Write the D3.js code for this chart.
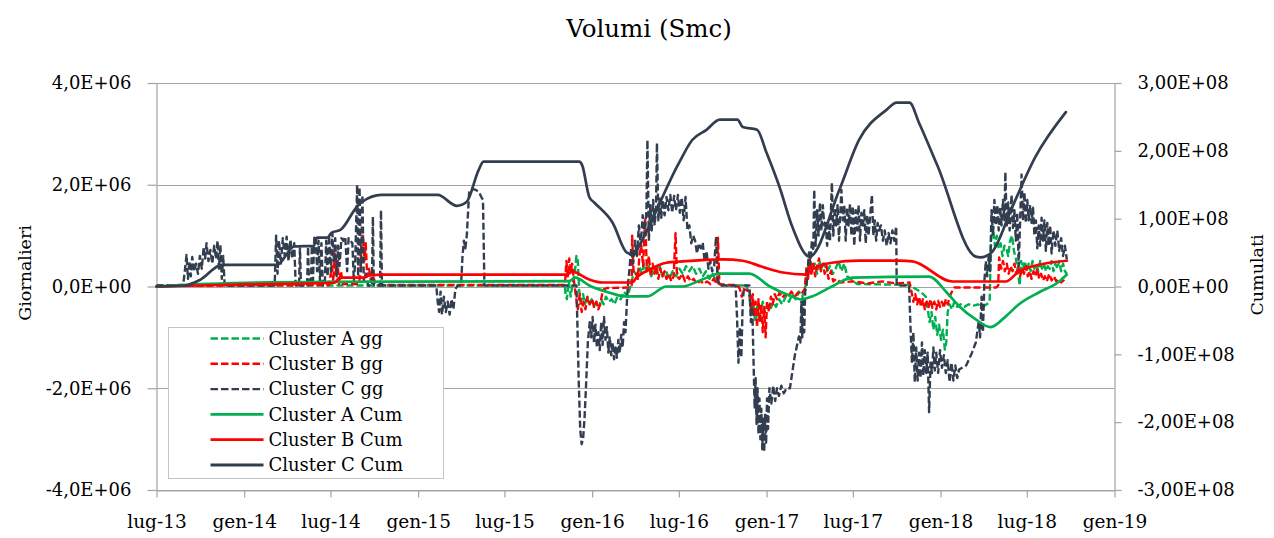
<!DOCTYPE html>
<html>
<head>
<meta charset="utf-8">
<script src="https://cdnjs.cloudflare.com/ajax/libs/d3/7.8.5/d3.min.js"></script>
<style>
  html, body { margin: 0; padding: 0; background: #ffffff; }
  svg { display: block; }
  text { font-family: "DejaVu Serif", "Liberation Serif", serif; fill: #000; }
</style>
</head>
<body>
<svg id="chart" width="1274" height="538"></svg>
<script>
// ---- data ---------------------------------------------------------------
const seriesNames = ["Cluster A gg", "Cluster B gg", "Cluster C gg",
                     "Cluster A Cum", "Cluster B Cum", "Cluster C Cum"];

const leftTicks  = [-4e6, -2e6, 0, 2e6, 4e6];
const leftTickLabels = ["-4,0E+06", "-2,0E+06", "0,0E+00", "2,0E+06", "4,0E+06"];
const rightTicks = [-3e8, -2e8, -1e8, 0, 1e8, 2e8, 3e8];
const rightTickLabels = ["-3,00E+08", "-2,00E+08", "-1,00E+08", "0,00E+00",
                         "1,00E+08", "2,00E+08", "3,00E+08"];
const xTickDates = ["2013-07-01", "2014-01-01", "2014-07-01", "2015-01-01",
                    "2015-07-01", "2016-01-01", "2016-07-01", "2017-01-01",
                    "2017-07-01", "2018-01-01", "2018-07-01", "2019-01-01"];
const xTickLabels = ["lug-13", "gen-14", "lug-14", "gen-15", "lug-15", "gen-16",
                     "lug-16", "gen-17", "lug-17", "gen-18", "lug-18", "gen-19"];

// daily volumes (Smc)
const clusterAgg = [
  ["2013-07-01", 0.02e6], ["2015-11-05", 0.02e6], ["2015-11-06", -0.15e6], ["2015-11-09", -0.25e6],
  ["2015-11-13", 0.1e6], ["2015-11-17", -0.2e6], ["2015-11-21", 0.05e6], ["2015-11-26", 0.3e6],
  ["2015-11-29", 0.6e6], ["2015-12-02", 0.5e6], ["2015-12-05", -0.1e6], ["2015-12-09", -0.3e6],
  ["2015-12-13", -0.15e6], ["2015-12-17", -0.35e6], ["2015-12-21", -0.2e6], ["2015-12-26", -0.35e6],
  ["2015-12-31", -0.25e6], ["2016-01-05", -0.4e6], ["2016-01-10", -0.3e6], ["2016-01-15", -0.4e6],
  ["2016-01-20", -0.25e6], ["2016-01-25", -0.35e6], ["2016-01-30", -0.2e6], ["2016-02-05", -0.3e6],
  ["2016-02-11", -0.25e6], ["2016-02-17", -0.35e6], ["2016-02-23", -0.2e6], ["2016-03-01", -0.25e6],
  ["2016-03-08", -0.1e6], ["2016-03-15", -0.2e6], ["2016-03-22", 0.02e6], ["2016-03-29", 0.3e6],
  ["2016-04-04", 0.2e6], ["2016-04-09", 0.4e6], ["2016-04-14", 0.25e6], ["2016-04-19", 0.45e6],
  ["2016-04-24", 0.3e6], ["2016-04-29", 0.4e6], ["2016-05-04", 0.2e6], ["2016-05-10", 0.35e6],
  ["2016-05-16", 0.25e6], ["2016-05-22", 0.4e6], ["2016-05-28", 0.2e6], ["2016-06-04", 0.3e6],
  ["2016-06-11", 0.15e6], ["2016-06-18", 0.3e6], ["2016-06-25", 0.2e6], ["2016-07-02", 0.35e6],
  ["2016-07-09", 0.25e6], ["2016-07-16", 0.4e6], ["2016-07-23", 0.3e6], ["2016-07-30", 0.4e6],
  ["2016-08-06", 0.25e6], ["2016-08-13", 0.35e6], ["2016-08-20", 0.2e6], ["2016-08-27", 0.3e6],
  ["2016-09-03", 0.15e6], ["2016-09-10", 0.25e6], ["2016-09-17", 0.1e6], ["2016-09-24", 0.05e6],
  ["2016-10-01", 0.02e6], ["2016-11-20", 0.02e6], ["2016-11-26", -0.2e6], ["2016-11-30", -0.5e6],
  ["2016-12-04", -0.3e6], ["2016-12-08", -0.7e6], ["2016-12-12", -0.4e6], ["2016-12-16", -0.65e6],
  ["2016-12-20", -0.5e6], ["2016-12-24", -0.3e6], ["2016-12-28", -0.5e6], ["2017-01-03", -0.35e6],
  ["2017-01-09", -0.45e6], ["2017-01-15", -0.3e6], ["2017-01-21", -0.4e6], ["2017-01-27", -0.25e6],
  ["2017-02-03", -0.35e6], ["2017-02-10", -0.2e6], ["2017-02-17", -0.3e6], ["2017-02-24", -0.15e6],
  ["2017-03-03", -0.25e6], ["2017-03-10", -0.1e6], ["2017-03-17", -0.2e6], ["2017-03-24", 0.02e6],
  ["2017-03-28", 0.35e6], ["2017-04-02", 0.5e6], ["2017-04-07", 0.3e6], ["2017-04-12", 0.45e6],
  ["2017-04-17", 0.25e6], ["2017-04-22", 0.5e6], ["2017-04-27", 0.35e6], ["2017-05-02", 0.45e6],
  ["2017-05-08", 0.3e6], ["2017-05-14", 0.4e6], ["2017-05-20", 0.25e6], ["2017-05-26", 0.35e6],
  ["2017-06-01", 0.5e6], ["2017-06-07", 0.3e6], ["2017-06-13", 0.45e6], ["2017-06-19", 0.2e6],
  ["2017-06-26", 0.15e6], ["2017-07-10", 0.05e6], ["2017-10-28", 0.03e6], ["2017-11-10", -0.05e6],
  ["2017-11-20", -0.1e6], ["2017-12-01", -0.2e6], ["2017-12-06", -0.5e6], ["2017-12-09", -0.7e6],
  ["2017-12-13", -0.5e6], ["2017-12-17", -0.85e6], ["2017-12-21", -0.6e6], ["2017-12-25", -0.95e6],
  ["2017-12-29", -0.75e6], ["2018-01-02", -1.05e6], ["2018-01-06", -0.85e6], ["2018-01-10", -1.24e6],
  ["2018-01-13", -1.1e6], ["2018-01-16", -0.5e6], ["2018-01-20", -0.35e6], ["2018-01-25", -0.45e6],
  ["2018-01-30", -0.3e6], ["2018-02-05", -0.4e6], ["2018-02-12", -0.35e6], ["2018-02-20", -0.4e6],
  ["2018-03-01", -0.35e6], ["2018-03-10", -0.38e6], ["2018-03-20", -0.35e6], ["2018-03-30", -0.4e6],
  ["2018-04-08", -0.35e6], ["2018-04-14", -0.3e6], ["2018-04-17", 0.9e6], ["2018-04-21", 1.18e6],
  ["2018-04-25", 0.8e6], ["2018-04-29", 1.0e6], ["2018-05-03", 0.75e6], ["2018-05-07", 0.85e6],
  ["2018-05-11", 0.6e6], ["2018-05-15", 0.8e6], ["2018-05-19", 0.75e6], ["2018-05-23", 0.6e6],
  ["2018-05-27", 0.9e6], ["2018-05-31", 1.0e6], ["2018-06-04", 0.7e6], ["2018-06-08", 0.55e6],
  ["2018-06-12", 0.3e6], ["2018-06-16", 0.02e6], ["2018-06-19", 0.5e6], ["2018-06-23", 0.35e6],
  ["2018-06-27", 0.5e6], ["2018-07-01", 0.3e6], ["2018-07-05", 0.45e6], ["2018-07-09", 0.3e6],
  ["2018-07-13", 0.5e6], ["2018-07-17", 0.35e6], ["2018-07-21", 0.45e6], ["2018-07-25", 0.3e6],
  ["2018-07-29", 0.5e6], ["2018-08-02", 0.35e6], ["2018-08-06", 0.45e6], ["2018-08-10", 0.3e6],
  ["2018-08-14", 0.4e6], ["2018-08-18", 0.35e6], ["2018-08-22", 0.5e6], ["2018-08-26", 0.3e6],
  ["2018-08-30", 0.45e6], ["2018-09-03", 0.35e6], ["2018-09-07", 0.5e6], ["2018-09-11", 0.3e6],
  ["2018-09-15", 0.45e6], ["2018-09-19", 0.3e6], ["2018-09-23", 0.25e6]
];

const clusterBgg = [
  ["2013-07-01", 0.01e6], ["2014-06-28", 0.03e6], ["2014-07-04", 0.4e6], ["2014-07-07", 0.1e6],
  ["2014-07-10", 0.65e6], ["2014-07-13", 0.2e6], ["2014-07-16", 0.5e6], ["2014-07-19", 0.05e6],
  ["2014-07-23", 0.3e6], ["2014-07-27", 0.05e6], ["2014-08-30", 0.05e6], ["2014-09-02", 0.3e6],
  ["2014-09-04", 0.9e6], ["2014-09-07", 1.0e6], ["2014-09-10", 0.5e6], ["2014-09-13", 0.85e6],
  ["2014-09-16", 0.2e6], ["2014-09-20", 0.35e6], ["2014-09-24", 0.1e6], ["2014-09-28", 0.2e6],
  ["2014-10-05", 0.03e6], ["2015-11-05", 0.03e6], ["2015-11-08", 0.5e6], ["2015-11-11", 0.2e6],
  ["2015-11-14", 0.55e6], ["2015-11-17", 0.3e6], ["2015-11-20", 0.45e6], ["2015-11-24", 0.1e6],
  ["2015-11-28", -0.2e6], ["2015-12-02", -0.45e6], ["2015-12-06", -0.15e6], ["2015-12-10", -0.5e6],
  ["2015-12-14", -0.3e6], ["2015-12-18", -0.45e6], ["2015-12-22", -0.2e6], ["2015-12-27", -0.35e6],
  ["2016-01-01", -0.25e6], ["2016-01-05", -0.4e6], ["2016-01-10", -0.3e6], ["2016-01-14", -0.45e6],
  ["2016-01-18", -0.35e6], ["2016-01-22", -0.15e6], ["2016-01-26", -0.05e6], ["2016-02-01", -0.03e6],
  ["2016-03-20", -0.02e6], ["2016-03-24", 0.02e6], ["2016-03-25", 1.0e6], ["2016-03-28", 0.25e6],
  ["2016-04-03", 0.25e6], ["2016-04-06", 0.15e6], ["2016-04-09", 0.6e6], ["2016-04-13", 0.8e6],
  ["2016-04-17", 0.4e6], ["2016-04-21", 1.35e6], ["2016-04-25", 0.3e6], ["2016-04-29", 0.6e6],
  ["2016-05-03", 0.2e6], ["2016-05-07", 0.45e6], ["2016-05-11", 0.25e6], ["2016-05-15", 0.4e6],
  ["2016-05-19", 0.15e6], ["2016-05-23", 0.35e6], ["2016-05-27", 0.2e6], ["2016-06-01", 0.3e6],
  ["2016-06-05", 0.15e6], ["2016-06-10", 0.25e6], ["2016-06-15", 0.1e6], ["2016-06-20", 0.2e6],
  ["2016-06-24", 1.05e6], ["2016-06-27", 0.2e6], ["2016-07-02", 0.15e6], ["2016-07-08", 0.25e6],
  ["2016-07-14", 0.1e6], ["2016-07-20", 0.2e6], ["2016-07-26", 0.1e6], ["2016-08-01", 0.15e6],
  ["2016-08-08", 0.05e6], ["2016-08-15", 0.12e6], ["2016-08-22", 0.05e6], ["2016-08-29", 0.1e6],
  ["2016-09-05", 0.05e6], ["2016-09-12", 0.15e6], ["2016-09-19", 0.05e6], ["2016-09-21", 0.96e6],
  ["2016-09-24", 0.05e6], ["2016-10-10", 0.03e6], ["2016-11-01", 0.03e6], ["2016-11-06", -0.05e6],
  ["2016-11-10", -0.2e6], ["2016-11-14", -0.05e6], ["2016-11-27", -0.1e6], ["2016-11-30", -0.5e6],
  ["2016-12-03", -0.15e6], ["2016-12-06", -0.6e6], ["2016-12-09", -0.3e6], ["2016-12-12", -0.8e6],
  ["2016-12-15", -0.25e6], ["2016-12-18", -0.7e6], ["2016-12-21", -0.35e6], ["2016-12-24", -0.9e6],
  ["2016-12-27", -0.4e6], ["2016-12-30", -1.0e6], ["2017-01-02", -0.3e6], ["2017-01-06", -0.5e6],
  ["2017-01-10", -0.2e6], ["2017-01-14", -0.35e6], ["2017-01-18", -0.15e6], ["2017-01-23", -0.25e6],
  ["2017-01-28", -0.12e6], ["2017-02-03", -0.22e6], ["2017-02-09", -0.15e6], ["2017-02-15", -0.2e6],
  ["2017-02-22", -0.1e6], ["2017-03-01", -0.2e6], ["2017-03-08", -0.12e6], ["2017-03-15", -0.15e6],
  ["2017-03-22", -0.05e6], ["2017-03-26", 0.4e6], ["2017-03-29", 0.15e6], ["2017-04-02", 0.6e6],
  ["2017-04-05", 0.25e6], ["2017-04-09", 0.45e6], ["2017-04-13", 0.2e6], ["2017-04-17", 0.4e6],
  ["2017-04-21", 0.55e6], ["2017-04-25", 0.3e6], ["2017-04-29", 0.45e6], ["2017-05-03", 0.25e6],
  ["2017-05-07", 0.4e6], ["2017-05-11", 0.15e6], ["2017-05-16", 0.3e6], ["2017-05-21", 0.1e6],
  ["2017-05-27", 0.15e6], ["2017-06-05", 0.08e6], ["2017-07-01", 0.1e6], ["2017-08-01", 0.06e6],
  ["2017-09-01", 0.1e6], ["2017-10-01", 0.06e6], ["2017-10-28", 0.08e6], ["2017-11-01", -0.1e6],
  ["2017-11-05", -0.3e6], ["2017-11-09", -0.15e6], ["2017-11-13", -0.35e6], ["2017-11-17", -0.2e6],
  ["2017-11-21", -0.4e6], ["2017-11-25", -0.25e6], ["2017-11-29", -0.45e6], ["2017-12-03", -0.3e6],
  ["2017-12-07", -0.4e6], ["2017-12-11", -0.25e6], ["2017-12-15", -0.42e6], ["2017-12-19", -0.3e6],
  ["2017-12-23", -0.45e6], ["2017-12-27", -0.28e6], ["2017-12-31", -0.4e6], ["2018-01-04", -0.3e6],
  ["2018-01-08", -0.42e6], ["2018-01-12", -0.25e6], ["2018-01-16", -0.35e6], ["2018-01-20", -0.2e6],
  ["2018-01-25", -0.1e6], ["2018-01-30", -0.02e6], ["2018-04-28", -0.02e6], ["2018-05-02", 0.02e6],
  ["2018-05-04", 0.57e6], ["2018-05-08", 0.35e6], ["2018-05-12", 0.5e6], ["2018-05-16", 0.3e6],
  ["2018-05-20", 0.45e6], ["2018-05-24", 0.25e6], ["2018-05-28", 0.4e6], ["2018-06-01", 0.3e6],
  ["2018-06-05", 0.45e6], ["2018-06-09", 0.25e6], ["2018-06-13", 0.4e6], ["2018-06-17", 0.2e6],
  ["2018-06-21", 0.35e6], ["2018-06-25", 0.25e6], ["2018-06-29", 0.4e6], ["2018-07-03", 0.2e6],
  ["2018-07-07", 0.3e6], ["2018-07-11", 0.15e6], ["2018-07-15", 0.3e6], ["2018-07-19", 0.2e6],
  ["2018-07-23", 0.35e6], ["2018-07-27", 0.15e6], ["2018-07-31", 0.25e6], ["2018-08-04", 0.12e6],
  ["2018-08-08", 0.2e6], ["2018-08-12", 0.1e6], ["2018-08-17", 0.25e6], ["2018-08-22", 0.12e6],
  ["2018-08-27", 0.2e6], ["2018-09-01", 0.1e6], ["2018-09-06", 0.15e6], ["2018-09-11", 0.08e6],
  ["2018-09-16", 0.12e6], ["2018-09-23", 0.07e6]
];

const clusterCgg = [
  ["2013-07-01", 0.02e6], ["2013-08-26", 0.03e6], ["2013-08-30", 0.35e6], ["2013-09-02", 0.62e6],
  ["2013-09-05", 0.15e6], ["2013-09-08", 0.5e6], ["2013-09-11", 0.2e6], ["2013-09-14", 0.58e6],
  ["2013-09-18", 0.3e6], ["2013-09-22", 0.45e6], ["2013-09-26", 0.25e6], ["2013-09-30", 0.6e6],
  ["2013-10-04", 0.35e6], ["2013-10-08", 0.78e6], ["2013-10-11", 0.55e6], ["2013-10-14", 0.85e6],
  ["2013-10-18", 0.5e6], ["2013-10-22", 0.72e6], ["2013-10-26", 0.45e6], ["2013-10-30", 0.8e6],
  ["2013-11-03", 0.55e6], ["2013-11-06", 0.9e6], ["2013-11-09", 0.35e6], ["2013-11-12", 0.82e6],
  ["2013-11-15", 0.15e6], ["2013-11-18", 0.6e6], ["2013-11-21", 0.02e6], ["2014-03-06", 0.02e6],
  ["2014-03-09", 1.0e6], ["2014-03-12", 0.25e6], ["2014-03-15", 0.9e6], ["2014-03-19", 0.45e6],
  ["2014-03-23", 0.95e6], ["2014-03-27", 0.6e6], ["2014-03-31", 0.98e6], ["2014-04-04", 0.5e6],
  ["2014-04-08", 0.92e6], ["2014-04-12", 0.55e6], ["2014-04-16", 0.85e6], ["2014-04-19", 0.02e6],
  ["2014-04-26", 0.02e6], ["2014-04-28", 0.75e6], ["2014-04-30", 0.02e6], ["2014-05-13", 0.02e6],
  ["2014-05-15", 0.78e6], ["2014-05-17", 0.02e6], ["2014-05-21", 0.02e6], ["2014-05-23", 0.8e6],
  ["2014-05-25", 0.02e6], ["2014-05-28", 0.95e6], ["2014-05-31", 1.0e6], ["2014-06-03", 0.3e6],
  ["2014-06-06", 0.9e6], ["2014-06-09", 0.1e6], ["2014-06-12", 0.85e6], ["2014-06-15", 0.02e6],
  ["2014-06-19", 0.02e6], ["2014-06-22", 0.9e6], ["2014-06-25", 0.2e6], ["2014-06-28", 1.0e6],
  ["2014-07-02", 0.3e6], ["2014-07-05", 1.05e6], ["2014-07-08", 0.5e6], ["2014-07-11", 0.95e6],
  ["2014-07-14", 0.2e6], ["2014-07-17", 0.8e6], ["2014-07-20", 0.4e6], ["2014-07-24", 0.95e6],
  ["2014-07-28", 0.9e6], ["2014-08-01", 0.98e6], ["2014-08-05", 0.3e6], ["2014-08-08", 0.95e6],
  ["2014-08-12", 0.9e6], ["2014-08-16", 0.85e6], ["2014-08-19", 0.1e6], ["2014-08-22", 0.5e6],
  ["2014-08-26", 2.0e6], ["2014-08-28", 0.2e6], ["2014-08-31", 1.95e6], ["2014-09-03", 0.3e6],
  ["2014-09-06", 1.8e6], ["2014-09-09", 0.1e6], ["2014-09-13", 0.25e6], ["2014-09-18", 0.02e6],
  ["2014-09-26", 0.02e6], ["2014-09-28", 1.37e6], ["2014-09-30", 0.02e6], ["2014-10-13", 0.02e6],
  ["2014-10-15", 1.5e6], ["2014-10-17", 0.02e6], ["2015-02-08", 0.02e6], ["2015-02-11", -0.3e6],
  ["2015-02-14", -0.5e6], ["2015-02-17", -0.1e6], ["2015-02-20", -0.55e6], ["2015-02-24", -0.2e6],
  ["2015-02-28", -0.5e6], ["2015-03-04", -0.3e6], ["2015-03-08", -0.55e6], ["2015-03-12", -0.25e6],
  ["2015-03-16", -0.45e6], ["2015-03-20", -0.05e6], ["2015-03-25", 0.02e6], ["2015-04-01", 0.02e6],
  ["2015-04-04", 0.6e6], ["2015-04-07", 0.9e6], ["2015-04-10", 0.75e6], ["2015-04-13", 1.0e6],
  ["2015-04-18", 1.85e6], ["2015-04-24", 1.92e6], ["2015-05-02", 1.9e6], ["2015-05-09", 1.85e6],
  ["2015-05-14", 1.75e6], ["2015-05-17", 1.7e6], ["2015-05-20", 0.02e6], ["2015-11-29", 0.02e6],
  ["2015-12-01", -0.7e6], ["2015-12-04", -1.9e6], ["2015-12-07", -2.8e6], ["2015-12-10", -3.1e6],
  ["2015-12-13", -3.0e6], ["2015-12-16", -2.6e6], ["2015-12-19", -2.0e6], ["2015-12-23", -1.1e6],
  ["2015-12-27", -0.7e6], ["2015-12-30", -1.0e6], ["2016-01-02", -0.6e6], ["2016-01-05", -1.1e6],
  ["2016-01-08", -0.75e6], ["2016-01-11", -1.2e6], ["2016-01-14", -0.9e6], ["2016-01-17", -1.25e6],
  ["2016-01-20", -0.7e6], ["2016-01-23", -1.15e6], ["2016-01-26", -0.6e6], ["2016-01-29", -1.05e6],
  ["2016-02-01", -0.8e6], ["2016-02-04", -1.3e6], ["2016-02-07", -1.0e6], ["2016-02-10", -1.35e6],
  ["2016-02-13", -1.1e6], ["2016-02-16", -1.43e6], ["2016-02-19", -1.2e6], ["2016-02-22", -1.4e6],
  ["2016-02-25", -1.05e6], ["2016-02-28", -1.3e6], ["2016-03-02", -0.95e6], ["2016-03-05", -1.2e6],
  ["2016-03-08", -0.7e6], ["2016-03-11", -0.9e6], ["2016-03-14", -0.3e6], ["2016-03-16", 0.02e6],
  ["2016-03-19", 0.3e6], ["2016-03-23", 0.75e6], ["2016-03-27", 0.45e6], ["2016-03-31", 0.9e6],
  ["2016-04-04", 0.6e6], ["2016-04-08", 1.2e6], ["2016-04-12", 0.8e6], ["2016-04-16", 1.4e6],
  ["2016-04-20", 1.0e6], ["2016-04-24", 1.5e6], ["2016-04-26", 2.88e6], ["2016-04-29", 0.9e6],
  ["2016-05-02", 1.6e6], ["2016-05-05", 1.1e6], ["2016-05-08", 1.7e6], ["2016-05-11", 1.2e6],
  ["2016-05-14", 1.5e6], ["2016-05-16", 2.82e6], ["2016-05-19", 1.3e6], ["2016-05-22", 1.75e6],
  ["2016-05-25", 1.35e6], ["2016-05-28", 1.7e6], ["2016-06-01", 1.4e6], ["2016-06-05", 1.76e6],
  ["2016-06-09", 1.5e6], ["2016-06-13", 1.8e6], ["2016-06-17", 1.45e6], ["2016-06-21", 1.78e6],
  ["2016-06-25", 1.5e6], ["2016-06-29", 1.8e6], ["2016-07-03", 1.45e6], ["2016-07-07", 1.75e6],
  ["2016-07-11", 1.3e6], ["2016-07-15", 1.76e6], ["2016-07-19", 1.1e6], ["2016-07-23", 1.2e6],
  ["2016-07-27", 0.85e6], ["2016-07-31", 1.0e6], ["2016-08-04", 0.9e6], ["2016-08-08", 0.65e6],
  ["2016-08-12", 0.85e6], ["2016-08-16", 0.75e6], ["2016-08-20", 0.86e6], ["2016-08-24", 0.5e6],
  ["2016-08-28", 0.7e6], ["2016-09-01", 0.35e6], ["2016-09-05", 0.5e6], ["2016-09-09", 0.3e6],
  ["2016-09-13", 0.4e6], ["2016-09-17", 0.98e6], ["2016-09-20", 0.2e6], ["2016-09-24", 0.02e6],
  ["2016-10-28", 0.02e6], ["2016-10-31", -0.6e6], ["2016-11-03", -1.5e6], ["2016-11-06", -0.8e6],
  ["2016-11-09", -1.4e6], ["2016-11-12", -0.3e6], ["2016-11-15", 0.02e6], ["2016-11-26", 0.02e6],
  ["2016-11-29", -0.7e6], ["2016-12-02", -0.4e6], ["2016-12-05", -1.6e6], ["2016-12-07", -2.4e6],
  ["2016-12-09", -1.8e6], ["2016-12-11", -2.7e6], ["2016-12-13", -2.0e6], ["2016-12-15", -2.9e6],
  ["2016-12-17", -2.2e6], ["2016-12-19", -3.0e6], ["2016-12-21", -2.4e6], ["2016-12-23", -3.2e6],
  ["2016-12-25", -2.6e6], ["2016-12-27", -3.25e6], ["2016-12-29", -2.5e6], ["2016-12-31", -3.1e6],
  ["2017-01-02", -2.2e6], ["2017-01-04", -2.8e6], ["2017-01-07", -2.0e6], ["2017-01-11", -2.3e6],
  ["2017-01-15", -1.95e6], ["2017-01-19", -2.25e6], ["2017-01-23", -2.0e6], ["2017-01-27", -2.15e6],
  ["2017-02-01", -1.95e6], ["2017-02-06", -2.1e6], ["2017-02-12", -2.0e6], ["2017-02-19", -2.0e6],
  ["2017-03-01", -1.37e6], ["2017-03-10", -0.98e6], ["2017-03-13", -1.1e6], ["2017-03-15", -0.3e6],
  ["2017-03-17", -1.0e6], ["2017-03-19", -0.2e6], ["2017-03-21", -0.9e6], ["2017-03-23", -0.1e6],
  ["2017-03-26", 0.02e6], ["2017-03-28", 0.3e6], ["2017-03-31", 0.67e6], ["2017-04-03", 0.45e6],
  ["2017-04-06", 0.9e6], ["2017-04-09", 0.7e6], ["2017-04-11", 1.9e6], ["2017-04-14", 0.8e6],
  ["2017-04-17", 1.5e6], ["2017-04-20", 1.0e6], ["2017-04-23", 1.65e6], ["2017-04-26", 1.1e6],
  ["2017-04-29", 1.6e6], ["2017-05-02", 1.2e6], ["2017-05-05", 1.3e6], ["2017-05-08", 0.8e6],
  ["2017-05-11", 1.2e6], ["2017-05-14", 0.9e6], ["2017-05-18", 2.04e6], ["2017-05-21", 1.0e6],
  ["2017-05-24", 1.55e6], ["2017-05-27", 1.2e6], ["2017-05-30", 1.6e6], ["2017-06-02", 0.9e6],
  ["2017-06-05", 1.5e6], ["2017-06-07", 1.9e6], ["2017-06-10", 1.3e6], ["2017-06-13", 1.6e6],
  ["2017-06-16", 0.9e6], ["2017-06-19", 1.55e6], ["2017-06-22", 1.2e6], ["2017-06-25", 1.62e6],
  ["2017-06-28", 1.0e6], ["2017-07-01", 1.58e6], ["2017-07-04", 0.8e6], ["2017-07-07", 1.5e6],
  ["2017-07-10", 1.1e6], ["2017-07-13", 1.6e6], ["2017-07-16", 0.9e6], ["2017-07-19", 1.45e6],
  ["2017-07-22", 1.15e6], ["2017-07-25", 1.5e6], ["2017-07-28", 0.85e6], ["2017-07-31", 1.4e6],
  ["2017-08-03", 1.0e6], ["2017-08-06", 1.35e6], ["2017-08-10", 1.8e6], ["2017-08-13", 1.0e6],
  ["2017-08-16", 1.3e6], ["2017-08-19", 0.9e6], ["2017-08-22", 1.25e6], ["2017-08-25", 1.1e6],
  ["2017-08-29", 1.2e6], ["2017-09-02", 0.9e6], ["2017-09-06", 1.1e6], ["2017-09-10", 0.8e6],
  ["2017-09-14", 1.05e6], ["2017-09-18", 0.85e6], ["2017-09-22", 1.1e6], ["2017-09-26", 0.9e6],
  ["2017-09-30", 1.18e6], ["2017-10-01", 0.02e6], ["2017-10-27", 0.02e6], ["2017-10-30", -0.8e6],
  ["2017-11-02", -1.5e6], ["2017-11-05", -0.9e6], ["2017-11-08", -1.88e6], ["2017-11-11", -1.2e6],
  ["2017-11-14", -1.85e6], ["2017-11-17", -1.3e6], ["2017-11-20", -1.8e6], ["2017-11-23", -1.1e6],
  ["2017-11-26", -1.75e6], ["2017-11-29", -1.25e6], ["2017-12-02", -1.7e6], ["2017-12-05", -1.3e6],
  ["2017-12-08", -2.47e6], ["2017-12-11", -1.5e6], ["2017-12-14", -1.7e6], ["2017-12-17", -1.2e6],
  ["2017-12-20", -1.65e6], ["2017-12-23", -1.3e6], ["2017-12-27", -1.7e6], ["2017-12-31", -1.25e6],
  ["2018-01-04", -1.6e6], ["2018-01-08", -1.35e6], ["2018-01-12", -1.7e6], ["2018-01-16", -1.45e6],
  ["2018-01-20", -1.88e6], ["2018-01-24", -1.5e6], ["2018-01-28", -1.85e6], ["2018-02-01", -1.55e6],
  ["2018-02-05", -1.8e6], ["2018-02-09", -1.63e6], ["2018-02-24", -1.55e6], ["2018-03-08", -1.3e6],
  ["2018-03-16", -1.1e6], ["2018-03-22", -0.7e6], ["2018-03-25", -1.0e6], ["2018-03-28", -0.2e6],
  ["2018-03-31", -0.9e6], ["2018-04-03", 0.1e6], ["2018-04-06", 0.5e6], ["2018-04-09", 0.2e6],
  ["2018-04-12", 0.6e6], ["2018-04-15", 0.3e6], ["2018-04-18", 1.5e6], ["2018-04-21", 1.0e6],
  ["2018-04-24", 1.7e6], ["2018-04-27", 1.2e6], ["2018-04-30", 1.6e6], ["2018-05-03", 1.1e6],
  ["2018-05-06", 1.55e6], ["2018-05-09", 1.2e6], ["2018-05-12", 1.7e6], ["2018-05-15", 1.3e6],
  ["2018-05-17", 2.25e6], ["2018-05-20", 1.2e6], ["2018-05-23", 1.65e6], ["2018-05-26", 1.1e6],
  ["2018-05-30", 1.8e6], ["2018-06-02", 1.15e6], ["2018-06-05", 1.5e6], ["2018-06-08", 0.9e6],
  ["2018-06-11", 1.45e6], ["2018-06-14", 0.4e6], ["2018-06-17", 1.3e6], ["2018-06-20", 2.2e6],
  ["2018-06-23", 1.3e6], ["2018-06-26", 1.85e6], ["2018-06-29", 1.25e6], ["2018-07-02", 1.7e6],
  ["2018-07-05", 1.3e6], ["2018-07-08", 1.6e6], ["2018-07-11", 1.25e6], ["2018-07-14", 1.55e6],
  ["2018-07-17", 1.0e6], ["2018-07-20", 1.3e6], ["2018-07-23", 0.75e6], ["2018-07-26", 1.2e6],
  ["2018-07-29", 0.8e6], ["2018-08-01", 1.35e6], ["2018-08-04", 0.9e6], ["2018-08-07", 1.3e6],
  ["2018-08-10", 0.7e6], ["2018-08-13", 1.25e6], ["2018-08-16", 0.8e6], ["2018-08-19", 1.2e6],
  ["2018-08-22", 0.65e6], ["2018-08-26", 1.1e6], ["2018-08-30", 0.8e6], ["2018-09-03", 1.1e6],
  ["2018-09-07", 0.7e6], ["2018-09-11", 0.95e6], ["2018-09-15", 0.6e6], ["2018-09-19", 0.8e6],
  ["2018-09-23", 0.53e6]
];

// cumulative volumes (Smc)
const clusterAcum = [
  ["2013-07-01", 0], ["2013-10-01", 3.5e6], ["2014-01-01", 5.5e6], ["2014-07-01", 7e6],
  ["2015-11-13", 7.8e6], ["2015-11-27", 1.3e7], ["2015-12-26", 1.5e6], ["2016-02-05", -8.8e6],
  ["2016-03-12", -1.47e7], ["2016-04-25", -1.47e7], ["2016-06-05", 0], ["2016-07-08", 0],
  ["2016-08-19", 1.03e7], ["2016-09-24", 1.9e7], ["2016-11-26", 1.9e7], ["2017-01-08", 0],
  ["2017-02-13", -1.18e7], ["2017-03-16", -1.9e7], ["2017-04-06", -1.47e7], ["2017-05-18", 0],
  ["2017-06-30", 1.32e7], ["2017-12-08", 1.47e7], ["2018-01-14", -8.8e6], ["2018-02-09", -2.9e7],
  ["2018-03-16", -4.85e7], ["2018-04-16", -6.0e7], ["2018-05-18", -4.4e7], ["2018-06-14", -2.65e7],
  ["2018-07-26", -8.8e6], ["2018-09-07", 7.4e6], ["2018-09-23", 1.76e7]
];

const clusterBcum = [
  ["2013-07-01", 0], ["2013-10-01", 1.5e6], ["2014-01-01", 3e6], ["2014-04-01", 4e6],
  ["2014-07-10", 5.5e6], ["2014-07-20", 1.3e7], ["2014-09-10", 1.3e7], ["2014-09-18", 1.6e7],
  ["2014-10-22", 1.76e7], ["2015-11-10", 1.76e7], ["2015-11-20", 2.2e7], ["2015-12-26", 1.03e7],
  ["2016-01-23", 5.9e6], ["2016-03-25", 5.9e6], ["2016-04-03", 1.32e7], ["2016-04-30", 2.5e7],
  ["2016-06-05", 3.5e7], ["2016-07-08", 3.7e7], ["2016-10-01", 4.0e7], ["2016-11-12", 3.8e7],
  ["2016-12-23", 2.9e7], ["2017-02-04", 2.06e7], ["2017-03-25", 1.76e7], ["2017-04-01", 2.2e7],
  ["2017-05-18", 3.5e7], ["2017-07-14", 3.8e7], ["2017-10-06", 3.8e7], ["2017-11-03", 3.7e7],
  ["2018-01-26", 7.4e6], ["2018-05-18", 7.4e6], ["2018-06-14", 2.2e7], ["2018-07-26", 3.2e7],
  ["2018-09-23", 3.8e7]
];

const clusterCcum = [
  ["2013-07-01", 0], ["2013-08-29", 1.5e6], ["2013-10-01", 1.0e7], ["2013-11-15", 3.2e7],
  ["2014-03-11", 3.2e7], ["2014-04-16", 5.9e7], ["2014-05-27", 6.0e7], ["2014-06-03", 7.2e7],
  ["2014-06-24", 7.2e7], ["2014-07-03", 7.9e7], ["2014-07-23", 8.4e7], ["2014-08-26", 1.18e8],
  ["2014-09-06", 1.25e8], ["2014-10-16", 1.35e8], ["2015-02-11", 1.35e8], ["2015-03-23", 1.19e8],
  ["2015-04-13", 1.25e8], ["2015-05-08", 1.72e8], ["2015-05-18", 1.84e8], ["2015-12-05", 1.84e8],
  ["2015-12-11", 1.79e8], ["2015-12-26", 1.32e8], ["2016-01-06", 1.235e8], ["2016-02-13", 0.94e8],
  ["2016-03-14", 0.5e8], ["2016-03-29", 0.47e8], ["2016-04-08", 0.59e8], ["2016-07-01", 1.82e8],
  ["2016-07-29", 2.16e8], ["2016-08-28", 2.31e8], ["2016-09-25", 2.46e8], ["2016-11-01", 2.46e8],
  ["2016-11-12", 2.35e8], ["2016-12-12", 2.31e8], ["2017-01-01", 1.97e8], ["2017-01-28", 1.47e8],
  ["2017-02-24", 0.88e8], ["2017-04-01", 0.44e8], ["2017-06-03", 1.43e8], ["2017-07-14", 2.16e8],
  ["2017-09-09", 2.6e8], ["2017-10-01", 2.71e8], ["2017-10-28", 2.71e8], ["2017-11-17", 2.41e8],
  ["2017-12-25", 1.79e8], ["2018-03-16", 0.44e8], ["2018-03-26", 0.43e8], ["2018-04-18", 0.5e8],
  ["2018-06-01", 1.18e8], ["2018-07-19", 1.91e8], ["2018-09-21", 2.57e8]
];

const seriesColors = ["#00b050", "#ff0000", "#323e4f", "#00b050", "#ff0000", "#323e4f"];

// ---- layout -------------------------------------------------------------
const svg = d3.select("#chart");
const plot = { left: 156.5, right: 1114.5, top: 83, bottom: 490 };
const parse = d3.utcParse("%Y-%m-%d");

const x = d3.scaleUtc()
  .domain([parse("2013-07-01"), parse("2019-01-01")])
  .range([plot.left, plot.right]);
const yL = d3.scaleLinear().domain([-4e6, 4e6]).range([plot.bottom, plot.top]);
const yR = d3.scaleLinear().domain([-3e8, 3e8]).range([plot.bottom, plot.top]);

const gridColor = "#a3a3a3";

// horizontal gridlines on the primary axis ticks
svg.append("g").selectAll("line").data(leftTicks).join("line")
  .attr("x1", plot.left).attr("x2", plot.right)
  .attr("y1", d => Math.round(yL(d)) + 0.5).attr("y2", d => Math.round(yL(d)) + 0.5)
  .attr("stroke", gridColor).attr("stroke-width", 1.2);

// axes
function styleAxis(g) {
  g.selectAll("path.domain").attr("stroke", gridColor).attr("stroke-width", 1.2);
  g.selectAll(".tick line").attr("stroke", gridColor).attr("stroke-width", 1.2);
  g.selectAll(".tick text").attr("font-family", "DejaVu Serif").attr("font-size", 18).attr("fill", "#000");
}

svg.append("g")
  .attr("transform", `translate(${plot.left},0)`)
  .call(d3.axisLeft(yL).tickValues(leftTicks).tickSize(9).tickSizeOuter(0).tickPadding(16)
    .tickFormat((d, i) => leftTickLabels[i]))
  .call(styleAxis);

svg.append("g")
  .attr("transform", `translate(${plot.right},0)`)
  .call(d3.axisRight(yR).tickValues(rightTicks).tickSize(7).tickSizeOuter(0).tickPadding(16)
    .tickFormat((d, i) => rightTickLabels[i]))
  .call(styleAxis);

svg.append("g")
  .attr("transform", `translate(0,${plot.bottom + 0.5})`)
  .call(d3.axisBottom(x).tickValues(xTickDates.map(parse)).tickSize(7).tickSizeOuter(0).tickPadding(17)
    .tickFormat((d, i) => xTickLabels[i]))
  .call(styleAxis)
  .call(g => g.selectAll(".tick text").attr("font-size", 18.5));

// ---- series -------------------------------------------------------------
const lineL = d3.line().x(d => x(parse(d[0]))).y(d => yL(d[1]));
const lineR = d3.line().x(d => x(parse(d[0]))).y(d => yR(d[1])).curve(d3.curveMonotoneX);

const daily = [clusterAgg, clusterBgg, clusterCgg];
const cumul = [clusterAcum, clusterBcum, clusterCcum];

const series = svg.append("g").attr("fill", "none")
  .attr("stroke-linejoin", "round");

daily.forEach((data, i) => {
  series.append("path")
    .attr("d", lineL(data))
    .attr("stroke", seriesColors[i])
    .attr("stroke-width", 2.4)
    .attr("stroke-dasharray", "7,3");
});
cumul.forEach((data, i) => {
  series.append("path")
    .attr("d", lineR(data))
    .attr("stroke", seriesColors[i + 3])
    .attr("stroke-width", 2.7)
    .attr("stroke-linecap", "round");
});

// ---- legend -------------------------------------------------------------
const legend = svg.append("g").attr("transform", "translate(168.5,327.5)");
legend.append("rect")
  .attr("width", 275).attr("height", 151)
  .attr("fill", "#fff").attr("stroke", "#c4c4c4").attr("stroke-width", 1);

seriesNames.forEach((name, i) => {
  const cy = 11 + i * 25.3;
  legend.append("line")
    .attr("x1", 42).attr("x2", 95).attr("y1", cy).attr("y2", cy)
    .attr("stroke", seriesColors[i]).attr("stroke-width", i < 3 ? 2.4 : 2.8)
    .attr("stroke-dasharray", i < 3 ? "7.5,3" : null);
  legend.append("text")
    .attr("x", 100).attr("y", cy).attr("dy", "0.35em")
    .attr("font-size", 18).text(name);
});

// ---- titles -------------------------------------------------------------
svg.append("text")
  .attr("x", 649).attr("y", 37).attr("text-anchor", "middle")
  .attr("font-size", 24.5).text("Volumi (Smc)");

svg.append("text")
  .attr("transform", "translate(25,273) rotate(-90)")
  .attr("text-anchor", "middle").attr("dy", "0.35em")
  .attr("font-size", 17.5).text("Giornalieri");

svg.append("text")
  .attr("transform", "translate(1257,275) rotate(-90)")
  .attr("text-anchor", "middle").attr("dy", "0.35em")
  .attr("font-size", 17.5).text("Cumulati");
</script>
</body>
</html>
